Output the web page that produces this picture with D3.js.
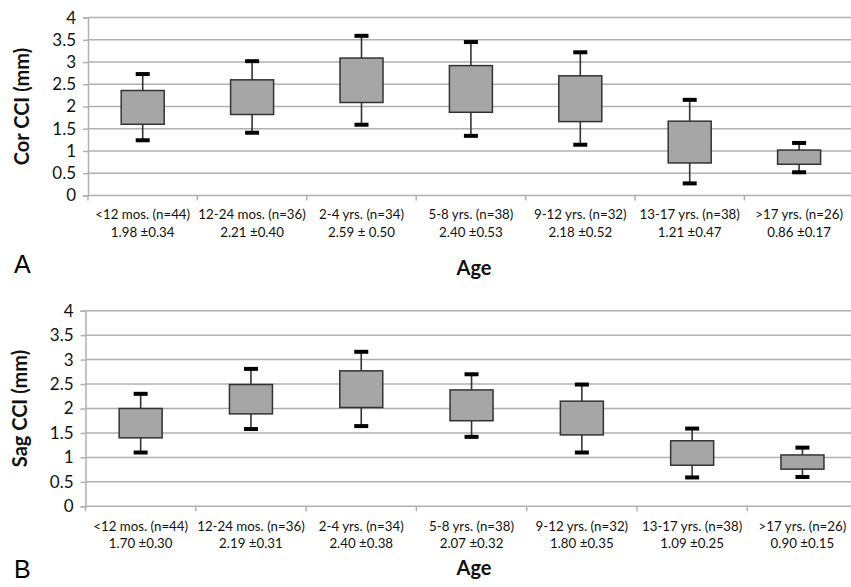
<!DOCTYPE html>
<html>
<head>
<meta charset="utf-8">
<script src="https://cdn.jsdelivr.net/npm/d3@7"></script>
<style>
  body { margin: 0; background: #fff; }
  svg { display: block; }
</style>
</head>
<body>
<svg id="chart" width="851" height="587"></svg>
<script>
// categories (age groups)
var groups = ['<12 mos. (n=44)', '12-24 mos. (n=36)', '2-4 yrs. (n=34)', '5-8 yrs. (n=38)',
              '9-12 yrs. (n=32)', '13-17 yrs. (n=38)', '>17 yrs. (n=26)'];

// panel A : coronal
var corStats = ['1.98 ±0.34', '2.21 ±0.40', '2.59 ± 0.50', '2.40 ±0.53', '2.18 ±0.52', '1.21 ±0.47', '0.86 ±0.17'];
var corWhiskerLow  = [1.24, 1.41, 1.59, 1.34, 1.14, 0.27, 0.52];
var corBoxLow      = [1.60, 1.82, 2.09, 1.87, 1.66, 0.73, 0.70];
var corBoxHigh     = [2.36, 2.60, 3.09, 2.92, 2.69, 1.67, 1.02];
var corWhiskerHigh = [2.73, 3.02, 3.59, 3.45, 3.22, 2.15, 1.18];

// panel B : sagittal
var sagStats = ['1.70 ±0.30', '2.19 ±0.31', '2.40 ±0.38', '2.07 ±0.32', '1.80 ±0.35', '1.09 ±0.25', '0.90 ±0.15'];
var sagWhiskerLow  = [1.10, 1.58, 1.64, 1.42, 1.10, 0.59, 0.60];
var sagBoxLow      = [1.40, 1.89, 2.02, 1.75, 1.46, 0.84, 0.76];
var sagBoxHigh     = [2.00, 2.49, 2.77, 2.38, 2.15, 1.34, 1.05];
var sagWhiskerHigh = [2.30, 2.81, 3.16, 2.70, 2.49, 1.59, 1.20];

var yTicks = [0, 0.5, 1, 1.5, 2, 2.5, 3, 3.5, 4];

var FONT = 'Lato, "Open Sans", sans-serif';
var GRID = '#b0b0b0';

var svg = d3.select('#chart');

var buildRows = function(lo, bLo, bHi, hi, stats){
  return groups.map(function(g, i){
    return {group: g, stat: stats[i], lo: lo[i], bLo: bLo[i], bHi: bHi[i], hi: hi[i]};
  });
};

var drawPanel = function(opts){
  var rows = opts.rows;
  var x = d3.scaleBand().domain(groups).range([opts.left, opts.left + groups.length * opts.step]).padding(0);
  var y = d3.scaleLinear().domain([0, 4]).range([opts.bottom, opts.top]);
  var g = svg.append('g');

  // horizontal grid
  g.selectAll('.grid').data(yTicks.slice(1)).enter().append('line')
    .attr('x1', opts.left).attr('x2', 851)
    .attr('y1', function(d){ return y(d); }).attr('y2', function(d){ return y(d); })
    .attr('stroke', GRID).attr('stroke-width', 1.5);

  // y axis (line + tick marks to the left)
  var yAxis = d3.axisLeft(y).tickValues(yTicks).tickSize(5).tickPadding(7)
    .tickFormat(function(d){ return String(d); });
  var ya = g.append('g').attr('transform', 'translate(' + opts.left + ',0)').call(yAxis);
  ya.select('.domain').attr('stroke', GRID).attr('stroke-width', 1.5);
  ya.selectAll('.tick line').attr('stroke', GRID).attr('stroke-width', 1.5);
  ya.selectAll('.tick text').attr('font-family', FONT).attr('font-size', 17).attr('fill', '#111');

  // x axis: baseline and category boundary ticks
  g.append('line')
    .attr('x1', opts.left).attr('x2', 851)
    .attr('y1', y(0)).attr('y2', y(0))
    .attr('stroke', GRID).attr('stroke-width', 1.5);
  var bounds = groups.map(function(d){ return x(d); }).concat([x.range()[1]]);
  g.selectAll('.xtick').data(bounds).enter().append('line')
    .attr('x1', function(d){ return d; }).attr('x2', function(d){ return d; })
    .attr('y1', y(0)).attr('y2', y(0) + 5)
    .attr('stroke', GRID).attr('stroke-width', 1.5);

  // category labels (two lines)
  var lab = g.selectAll('.xlab').data(rows).enter().append('text')
    .attr('font-family', FONT).attr('font-size', 13.3).attr('fill', '#111')
    .attr('text-anchor', 'middle');
  lab.append('tspan')
    .attr('x', function(d){ return x(d.group) + x.bandwidth() / 2; })
    .attr('y', opts.labelY)
    .text(function(d){ return d.group; });
  lab.append('tspan')
    .attr('x', function(d){ return x(d.group) + x.bandwidth() / 2; })
    .attr('y', opts.labelY + opts.labelGap)
    .text(function(d){ return d.stat; });

  // boxes
  var cx = function(d){ return x(d.group) + x.bandwidth() / 2; };
  var bw = 43, cw = 14;
  var box = g.selectAll('.box').data(rows).enter().append('g');
  box.append('line')
    .attr('x1', cx).attr('x2', cx)
    .attr('y1', function(d){ return y(d.hi); }).attr('y2', function(d){ return y(d.lo); })
    .attr('stroke', '#333').attr('stroke-width', 1.6);
  box.append('rect')
    .attr('x', function(d){ return cx(d) - bw / 2; })
    .attr('width', bw)
    .attr('y', function(d){ return y(d.bHi); })
    .attr('height', function(d){ return y(d.bLo) - y(d.bHi); })
    .attr('fill', '#a6a6a6').attr('stroke', '#333').attr('stroke-width', 1.5);
  ['lo', 'hi'].forEach(function(k){
    box.append('line')
      .attr('x1', function(d){ return cx(d) - cw / 2; })
      .attr('x2', function(d){ return cx(d) + cw / 2; })
      .attr('y1', function(d){ return y(d[k]); }).attr('y2', function(d){ return y(d[k]); })
      .attr('stroke', '#000').attr('stroke-width', 4);
  });

  // axis titles and panel letter
  svg.append('text')
    .attr('transform', 'translate(' + opts.titleX + ',' + ((opts.top + opts.bottom) / 2) + ') rotate(-90)')
    .attr('text-anchor', 'middle').attr('dy', '0.35em')
    .attr('font-family', FONT).attr('font-weight', 'bold').attr('font-size', 20)
    .attr('fill', '#111')
    .text(opts.yTitle);
  svg.append('text')
    .attr('x', 474).attr('y', opts.ageY)
    .attr('text-anchor', 'middle')
    .attr('font-family', FONT).attr('font-weight', 'bold').attr('font-size', 20)
    .attr('fill', '#111')
    .text('Age');
  svg.append('text')
    .attr('x', 14).attr('y', opts.letterY)
    .attr('font-family', '"Liberation Sans", Arial, sans-serif').attr('font-size', 25)
    .attr('fill', '#000')
    .text(opts.letter);
};

drawPanel({
  rows: buildRows(corWhiskerLow, corBoxLow, corBoxHigh, corWhiskerHigh, corStats),
  left: 88, step: 109.4, top: 17.6, bottom: 195.4,
  labelY: 219, labelGap: 18, titleX: 22, yTitle: 'Cor CCI (mm)',
  ageY: 275, letterY: 273, letter: 'A'
});

drawPanel({
  rows: buildRows(sagWhiskerLow, sagBoxLow, sagBoxHigh, sagWhiskerHigh, sagStats),
  left: 85.5, step: 110.3, top: 310.7, bottom: 506.3,
  labelY: 531, labelGap: 17, titleX: 20, yTitle: 'Sag CCI (mm)',
  ageY: 575, letterY: 578, letter: 'B'
});
</script>
</body>
</html>
